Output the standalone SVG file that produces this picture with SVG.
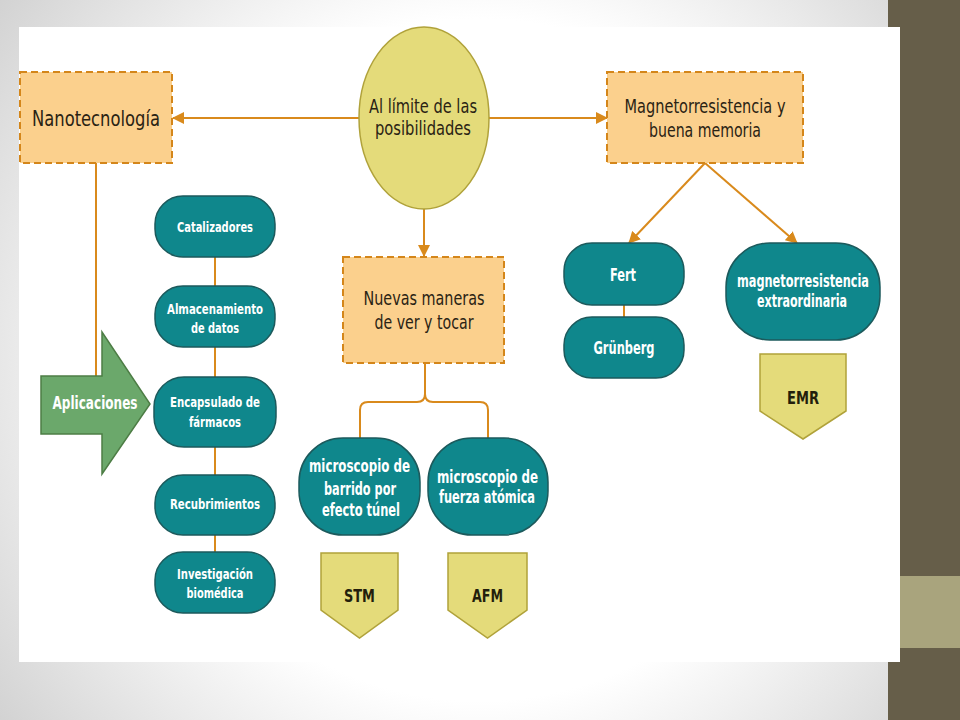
<svg xmlns="http://www.w3.org/2000/svg" width="960" height="720" viewBox="0 0 960 720">
<defs>
<radialGradient id="bg" cx="480" cy="360" r="620" gradientUnits="userSpaceOnUse">
<stop offset="0.55" stop-color="#ffffff"/>
<stop offset="1" stop-color="#cfcfcf"/>
</radialGradient>
<marker id="ah" viewBox="0 0 12 12" refX="11" refY="6" markerWidth="12" markerHeight="12" markerUnits="userSpaceOnUse" orient="auto">
<path d="M0,0 L12,6 L0,12 Z" fill="#D98A1C"/>
</marker>
<style>
.box{fill:#FBD08D;stroke:#D4861A;stroke-width:2;stroke-dasharray:7,4}
.ell{fill:#E4DB7A;stroke:#B0A23A;stroke-width:1.5}
.pill{fill:#0F878C;stroke:#1C5A5C;stroke-width:1.5}
.tag{fill:#E4DB7A;stroke:#B0A23A;stroke-width:1.5}
.con{fill:none;stroke:#D98A1C;stroke-width:2}
.t{font-family:"Liberation Sans Narrow","DejaVu Sans Condensed","Liberation Sans",sans-serif;text-anchor:middle;fill:#2A2314}
.w{font-family:"Liberation Sans Narrow","DejaVu Sans Condensed","Liberation Sans",sans-serif;text-anchor:middle;fill:#ffffff;font-weight:bold}
.d{font-family:"Liberation Sans Narrow","DejaVu Sans Condensed","Liberation Sans",sans-serif;text-anchor:middle;fill:#231E0C;font-weight:bold}
</style>
</defs>
<rect x="0" y="0" width="960" height="720" fill="url(#bg)"/>
<rect x="888" y="0" width="72" height="720" fill="#665E49"/>
<rect x="19" y="27" width="881" height="635" fill="#ffffff"/>
<rect x="900" y="576" width="60" height="72" fill="#A9A47D"/>

<g id="connectors">
<line class="con" x1="359" y1="118" x2="173" y2="118" marker-end="url(#ah)"/>
<line class="con" x1="488" y1="118" x2="607" y2="118" marker-end="url(#ah)"/>
<line class="con" x1="424" y1="209" x2="424" y2="256" marker-end="url(#ah)"/>
<line class="con" x1="705" y1="163" x2="629" y2="243" marker-end="url(#ah)"/>
<line class="con" x1="705" y1="163" x2="797" y2="243" marker-end="url(#ah)"/>
<line class="con" x1="96" y1="163" x2="96" y2="376"/>
<line class="con" x1="215" y1="257" x2="215" y2="552"/>
<line class="con" x1="624" y1="305" x2="624" y2="317"/>
<path class="con" d="M425,364 V394 Q425,402 417,402 H368 Q360,402 360,410 V438"/>
<path class="con" d="M425,394 Q425,402 433,402 H480 Q488,402 488,410 V438"/>
</g>

<g id="nanotecnologia">
<rect class="box" x="20" y="72" width="152" height="91"/>
<text class="t" x="96" y="126" font-size="21" textLength="128" lengthAdjust="spacingAndGlyphs">Nanotecnología</text>
</g>

<g id="al-limite">
<ellipse class="ell" cx="424" cy="118" rx="65" ry="91"/>
<text class="t" x="423" y="113" font-size="20" textLength="108" lengthAdjust="spacingAndGlyphs">Al límite de las</text>
<text class="t" x="423" y="135" font-size="20" textLength="96" lengthAdjust="spacingAndGlyphs">posibilidades</text>
</g>

<g id="magnetorresistencia">
<rect class="box" x="607" y="72" width="196" height="91"/>
<text class="t" x="705" y="113" font-size="19" textLength="161" lengthAdjust="spacingAndGlyphs">Magnetorresistencia y</text>
<text class="t" x="705" y="137" font-size="19" textLength="112" lengthAdjust="spacingAndGlyphs">buena memoria</text>
</g>

<g id="nuevas-maneras">
<rect class="box" x="343" y="257" width="161" height="106"/>
<text class="t" x="424" y="305" font-size="19" textLength="121" lengthAdjust="spacingAndGlyphs">Nuevas maneras</text>
<text class="t" x="424" y="329" font-size="19" textLength="99" lengthAdjust="spacingAndGlyphs">de ver y tocar</text>
</g>

<g id="aplicaciones">
<polygon points="41,376 102,376 102,332 150,404 102,474 102,434 41,434" fill="#6BA86B" stroke="#4D7D45" stroke-width="1.5"/>
<text class="w" x="95" y="409" font-size="17" textLength="85" lengthAdjust="spacingAndGlyphs">Aplicaciones</text>
</g>

<g id="catalizadores">
<rect class="pill" x="155" y="196" width="120" height="61" rx="28" ry="28"/>
<text class="w" x="215" y="232" font-size="14" textLength="76" lengthAdjust="spacingAndGlyphs">Catalizadores</text>
</g>

<g id="almacenamiento">
<rect class="pill" x="155" y="286" width="120" height="61" rx="28" ry="28"/>
<text class="w" x="215" y="314" font-size="14" textLength="96" lengthAdjust="spacingAndGlyphs">Almacenamiento</text>
<text class="w" x="215" y="333" font-size="14" textLength="48" lengthAdjust="spacingAndGlyphs">de datos</text>
</g>

<g id="encapsulado">
<rect class="pill" x="154" y="377" width="122" height="70" rx="30" ry="30"/>
<text class="w" x="215" y="407" font-size="14" textLength="90" lengthAdjust="spacingAndGlyphs">Encapsulado de</text>
<text class="w" x="215" y="427" font-size="14" textLength="52" lengthAdjust="spacingAndGlyphs">fármacos</text>
</g>

<g id="recubrimientos">
<rect class="pill" x="155" y="475" width="120" height="60" rx="28" ry="28"/>
<text class="w" x="215" y="509" font-size="14" textLength="90" lengthAdjust="spacingAndGlyphs">Recubrimientos</text>
</g>

<g id="investigacion">
<rect class="pill" x="155" y="552" width="120" height="61" rx="28" ry="28"/>
<text class="w" x="215" y="579" font-size="14" textLength="76" lengthAdjust="spacingAndGlyphs">Investigación</text>
<text class="w" x="215" y="598" font-size="14" textLength="57" lengthAdjust="spacingAndGlyphs">biomédica</text>
</g>

<g id="microscopio-barrido">
<rect class="pill" x="299" y="438" width="121" height="97" rx="44" ry="44"/>
<text class="w" x="359.5" y="472" font-size="17" textLength="101" lengthAdjust="spacingAndGlyphs">microscopio de</text>
<text class="w" x="360" y="495" font-size="17" textLength="72" lengthAdjust="spacingAndGlyphs">barrido por</text>
<text class="w" x="361" y="516" font-size="17" textLength="78" lengthAdjust="spacingAndGlyphs">efecto túnel</text>
</g>

<g id="microscopio-fuerza">
<rect class="pill" x="428" y="438" width="120" height="97" rx="44" ry="44"/>
<text class="w" x="487.5" y="483" font-size="17" textLength="101" lengthAdjust="spacingAndGlyphs">microscopio de</text>
<text class="w" x="487" y="503" font-size="17" textLength="96" lengthAdjust="spacingAndGlyphs">fuerza atómica</text>
</g>

<g id="stm">
<polygon class="tag" points="321,553 398,553 398,610 359.5,638 321,610"/>
<text class="d" x="359.5" y="602" font-size="17" textLength="31" lengthAdjust="spacingAndGlyphs">STM</text>
</g>

<g id="afm">
<polygon class="tag" points="448,553 527,553 527,610 487.5,638 448,610"/>
<text class="d" x="487.5" y="602" font-size="17" textLength="31" lengthAdjust="spacingAndGlyphs">AFM</text>
</g>

<g id="fert">
<rect class="pill" x="564" y="243" width="120" height="62" rx="28" ry="28"/>
<text class="w" x="623" y="281" font-size="17" textLength="26" lengthAdjust="spacingAndGlyphs">Fert</text>
</g>

<g id="grunberg">
<rect class="pill" x="564" y="317" width="120" height="61" rx="28" ry="28"/>
<text class="w" x="624" y="354" font-size="17" textLength="61" lengthAdjust="spacingAndGlyphs">Grünberg</text>
</g>

<g id="magnetorresistencia-extraordinaria">
<rect class="pill" x="726" y="243" width="154" height="97" rx="44" ry="44"/>
<text class="w" x="803" y="287" font-size="17" textLength="132" lengthAdjust="spacingAndGlyphs">magnetorresistencia</text>
<text class="w" x="802" y="307" font-size="17" textLength="90" lengthAdjust="spacingAndGlyphs">extraordinaria</text>
</g>

<g id="emr">
<polygon class="tag" points="760,354 846,354 846,411 803,439 760,411"/>
<text class="d" x="803" y="404" font-size="17" textLength="32" lengthAdjust="spacingAndGlyphs">EMR</text>
</g>
</svg>
